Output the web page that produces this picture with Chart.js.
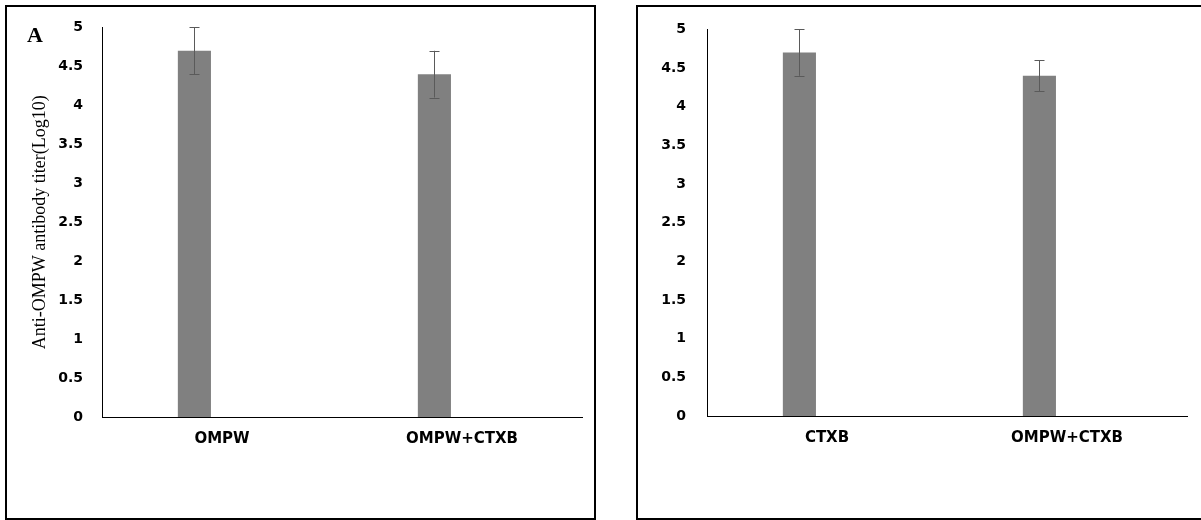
<!DOCTYPE html>
<html>
<head>
<meta charset="utf-8">
<title>Anti-OMPW antibody titer</title>
<script src="https://cdn.jsdelivr.net/npm/chart.js@4.4.1/dist/chart.umd.min.js"></script>
<style>
  html, body { margin: 0; padding: 0; background: #fff; }
  body { width: 1201px; height: 520px; position: relative; overflow: hidden; }
  .box { position: absolute; border: 2px solid #000; box-sizing: border-box; pointer-events: none; }
  .wrap { position: absolute; top: 0; height: 520px; }
  .tag { position: absolute; left: 27px; top: 24px; font: bold 22px "Liberation Serif", "Times New Roman", serif; line-height: 1; color: #000; }
</style>
</head>
<body>
<div class="wrap" style="left:0;width:600px"><canvas id="chartA"></canvas></div>
<div class="wrap" style="left:600px;width:601px"><canvas id="chartB"></canvas></div>
<div class="box" style="left:5px;top:5px;width:591px;height:515px"></div>
<div class="box" style="left:636px;top:5px;width:570px;height:515px"></div>
<div class="tag">A</div>
<script>
// values
const leftCategories = ['OMPW', 'OMPW+CTXB'];
const leftValues = [4.7, 4.4];
const leftErrors = [0.3, 0.3];

const rightCategories = ['CTXB', 'OMPW+CTXB'];
const rightValues = [4.7, 4.4];
const rightErrors = [0.3, 0.2];

const yTitle = 'Anti-OMPW antibody titer(Log10)';

// simple error bars drawn on top of the first dataset
const errorBars = {
  id: 'errorBars',
  afterDatasetsDraw(chart, args, opts) {
    const ctx = chart.ctx;
    const y = chart.scales.y;
    const meta = chart.getDatasetMeta(0);
    ctx.save();
    ctx.strokeStyle = '#5a5a5a';
    ctx.lineWidth = 1;
    meta.data.forEach((bar, i) => {
      const v = chart.data.datasets[0].data[i];
      const e = opts.errors[i];
      const x = Math.round(bar.x) + 0.5;
      const yTop = y.getPixelForValue(v + e);
      const yBot = y.getPixelForValue(v - e);
      ctx.beginPath();
      ctx.moveTo(x, yTop); ctx.lineTo(x, yBot);
      ctx.moveTo(x - 5, Math.round(yTop) + 0.5); ctx.lineTo(x + 5, Math.round(yTop) + 0.5);
      ctx.moveTo(x - 5, Math.round(yBot) + 0.5); ctx.lineTo(x + 5, Math.round(yBot) + 0.5);
      ctx.stroke();
    });
    ctx.restore();
  }
};

function makeChart(id, categories, values, errors, box, withTitle) {
  const config = {
    type: 'bar',
    data: {
      labels: categories,
      datasets: [
        {
          data: values,
          backgroundColor: '#808080',
          borderWidth: 0,
          barPercentage: 0.6,
          categoryPercentage: 0.46
        },
        {
          data: categories.map(() => null),
          backgroundColor: '#808080',
          barPercentage: 0.6,
          categoryPercentage: 0.46
        }
      ]
    },
    options: {
      responsive: true,
      maintainAspectRatio: false,
      animation: false,
      layout: {
        padding: { left: 0, right: box.right, top: box.top, bottom: 0 }
      },
      scales: {
        x: {
          grid: { display: false, drawTicks: false },
          border: { display: true, color: '#000', width: 1 },
          ticks: {
            color: '#000',
            padding: 13,
            font: { family: 'DejaVu Sans', size: 15, weight: 'bold' }
          },
          afterFit: (s) => { s.height = box.xHeight; }
        },
        y: {
          min: 0,
          max: 5,
          grid: { display: false, drawTicks: false },
          border: { display: true, color: '#000', width: 1 },
          ticks: {
            stepSize: 0.5,
            color: '#000',
            padding: box.tickPad,
            font: { family: 'DejaVu Sans', size: 14, weight: 'bold' },
            callback: (v) => String(Math.round(v * 10) / 10)
          },
          title: {
            display: withTitle,
            text: yTitle,
            color: '#000',
            padding: { top: 29, bottom: 0 },
            font: { family: 'Liberation Serif', size: 18, weight: 'normal' }
          },
          afterFit: (s) => { s.width = box.yWidth; }
        }
      },
      plugins: {
        legend: { display: false },
        tooltip: { enabled: false },
        errorBars: { errors: errors }
      }
    },
    plugins: [errorBars]
  };
  return new Chart(document.getElementById(id).getContext('2d'), config);
}

makeChart('chartA', leftCategories, leftValues, leftErrors,
  { top: 26, right: 18, yWidth: 102, xHeight: 103, tickPad: 19 }, true);
makeChart('chartB', rightCategories, rightValues, rightErrors,
  { top: 28, right: 14, yWidth: 107, xHeight: 104, tickPad: 21 }, false);
</script>
</body>
</html>
